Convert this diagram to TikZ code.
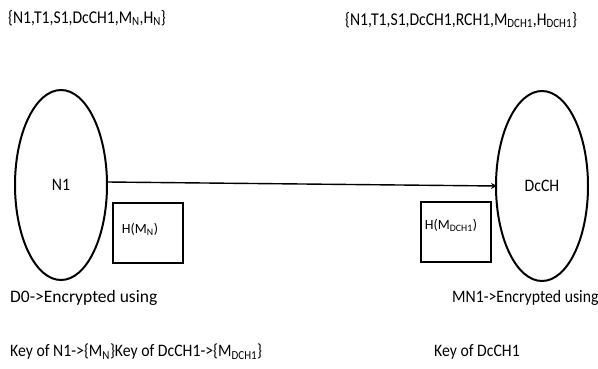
\documentclass[tikz,border=0pt]{standalone}
\usepackage{fontspec}
\setmainfont{Carlito}
\newfontfamily\condtop[FakeStretch=0.87]{Carlito}
\newfontfamily\condbot[FakeStretch=0.9]{Carlito}
\usetikzlibrary{shapes.geometric,arrows.meta}
\begin{document}
\begin{tikzpicture}[x=1pt,y=-1pt,
  party/.style={draw,ellipse,line width=2pt,minimum width=92pt,minimum height=190pt,inner sep=0pt,font=\condbot\fontsize{17.5}{20}\selectfont},
  hashbox/.style={draw,line width=1.4pt,minimum width=70pt,minimum height=60pt,inner sep=0pt},
  boxtxt/.style={inner sep=0pt,font=\fontsize{14}{16}\selectfont},
  toptxt/.style={anchor=west,inner sep=0pt,font=\condtop\fontsize{18}{20}\selectfont},
  txt/.style={anchor=west,inner sep=0pt,font=\condbot\fontsize{17.5}{20}\selectfont},
  widetxt/.style={anchor=west,inner sep=0pt,font=\fontsize{17.5}{20}\selectfont}]
\useasboundingbox (0,0) rectangle (598,369);
\node[party] (n1) at (61,185) {N1};
\node[party] (dc) at (542,186) {DcCH};
\coordinate (a) at (107,182);
\coordinate (b) at (497,186);
\draw[line width=1.4pt,-{Stealth[length=6pt,width=6pt]}] (a) -- (b);
\node[hashbox] (h1) at (148,233) {};
\node[hashbox] (h2) at (456,232) {};
\node[boxtxt] (h1t) at (140,229) {H(M\textsubscript{N})};
\node[boxtxt] (h2t) at (451,225) {H(M\textsubscript{DCH1})};
\node[toptxt] (t1) at (8,18) {\{N1,T1,S1,DcCH1,M\textsubscript{N},H\textsubscript{N}\}};
\node[toptxt] (t2) at (345,20) {\{N1,T1,S1,DcCH1,RCH1,M\textsubscript{DCH1},H\textsubscript{DCH1}\}};
\node[widetxt] (b1) at (10,298) {D0->Encrypted using};
\node[txt] (b2) at (10,352) {Key of N1->\{M\textsubscript{N}\}Key of DcCH1->\{M\textsubscript{DCH1}\}};
\node[txt] (b3) at (452,298) {MN1->Encrypted using};
\node[txt] (b4) at (434,352) {Key of DcCH1};
\end{tikzpicture}
\end{document}
